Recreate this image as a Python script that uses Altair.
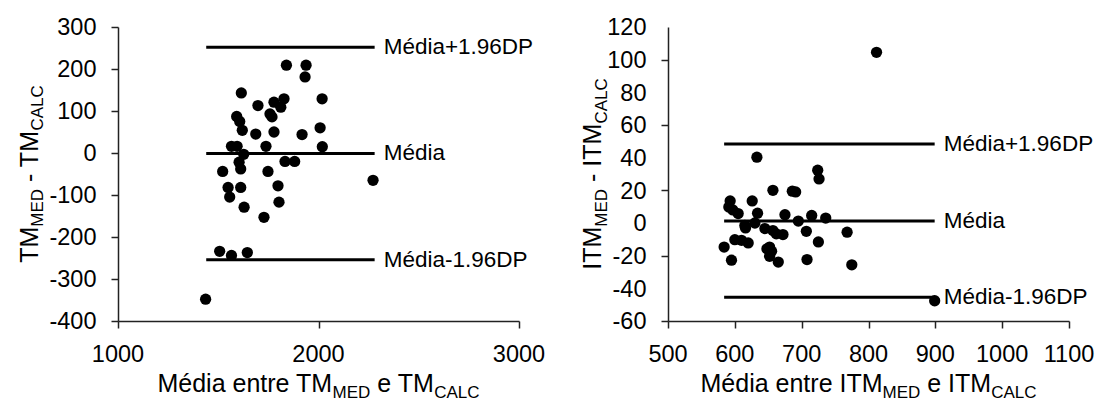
import altair as alt
import pandas as pd

# ---------------- data ----------------
# Left panel: Bland-Altman of TM
tm_mean = [1840, 1938, 1933, 1615, 1698, 1778, 1828, 1812, 1758, 1768,
           2018, 1592, 1607, 1620, 1687, 1778, 1918, 2008, 2019, 1566,
           1594, 1738, 1627, 1833, 1881, 1522, 1612, 1748, 1604, 2272,
           1549, 1612, 1798, 1557, 1803, 1629, 1728, 1507, 1566, 1645, 1437]
tm_diff = [209, 209, 181, 143, 113, 121, 129, 109, 93, 86,
           129, 87, 75, 54, 45, 50, 44, 60, 15, 16,
           16, 16, -3, -20, -20, -44, -38, -44, -22, -65,
           -82, -82, -78, -105, -117, -129, -153, -234, -244, -237, -348]

# Right panel: Bland-Altman of ITM
itm_mean = [593, 591, 597, 605, 626, 634, 657, 686, 691, 675,
            715, 695, 615, 630, 645, 657, 662, 707, 672, 584,
            600, 610, 620, 652, 655, 652, 595, 665, 708, 725,
            633, 724, 726, 736, 768, 775, 812, 899, 648, 616]
itm_diff = [13.5, 9.8, 8, 5.8, 13.5, 6, 20, 19.5, 19, 5.1,
            4.6, 1.2, -1.5, 0, -3.4, -4.6, -6.6, -5.1, -7.1, -14.7,
            -10.2, -10.6, -12.2, -14.7, -17.3, -20.4, -22.8, -23.9, -22.4, -11.6,
            40.3, 32.3, 27, 3, -5.6, -25.6, 104.5, -47.6, -15.8, -3]

line_labels = ["Média+1.96DP", "Média", "Média-1.96DP"]
tm_line_values = [252, -1, -254]
tm_line_x = [1440, 2280]
itm_line_values = [48.4, 1.2, -45.4]
itm_line_x = [584, 899]

tm_x_ticks = [1000, 2000, 3000]
tm_y_ticks = [300, 200, 100, 0, -100, -200, -300, -400]
itm_x_ticks = [500, 600, 700, 800, 900, 1000, 1100]
itm_y_ticks = [120, 100, 80, 60, 40, 20, 0, -20, -40, -60]

# ---------------- layout helpers ----------------
FONT = "Liberation Sans"
W, H = 401, 294
MAIN, SUB = 25, 17
TICKF = 23.5
ADV = {"M": 833, "é": 556, "d": 556, "i": 222, "a": 556, " ": 278,
       "e": 556, "n": 556, "t": 278, "r": 333, "T": 611, "I": 278, "E": 667,
       "D": 722, "C": 722, "A": 667, "L": 556, "-": 333}


def tw(s, size):
    return sum(ADV.get(c, 556) for c in s) * size / 1000.0


def title_layers(pieces, horizontal, base, center):
    """pieces: list of (text, is_sub). Returns list of text layers."""
    sizes = [(t, SUB if sub else MAIN, sub) for t, sub in pieces]
    total = sum(tw(t, s) for t, s, _ in sizes)
    layers = []
    pos = center - total / 2.0
    for t, s, sub in sizes:
        stripped = t.lstrip(" ")
        lead = tw(t[: len(t) - len(stripped)], s)
        p0 = pos + lead
        df = pd.DataFrame({"t": [stripped]})
        if horizontal:
            enc = dict(x=alt.value(p0), y=alt.value(base + (6 if sub else 0)))
            m = alt.Chart(df).mark_text(align="left", baseline="alphabetic", font=FONT,
                                        fontSize=s, color="black")
        else:
            enc = dict(x=alt.value(base + (5.5 if sub else 0)), y=alt.value(H - p0))
            m = alt.Chart(df).mark_text(align="left", baseline="alphabetic", font=FONT,
                                        fontSize=s, color="black", angle=270)
        layers.append(m.encode(text="t:N", **enc))
        pos += tw(t, s)
    return layers


def panel(xs, ys, line_vals, line_x, xdom, ydom, xticks, yticks, xt, yt, ytitle_x):
    pts = pd.DataFrame({"x": xs, "y": ys})
    rows = []
    for lab, v in zip(line_labels, line_vals):
        for xv in line_x:
            rows.append({"lab": lab, "x": xv, "y": v})
    lines = pd.DataFrame(rows)
    labs = pd.DataFrame({"lab": line_labels, "x": [line_x[1]] * 3, "y": line_vals})

    xs_ = alt.Scale(domain=xdom, nice=False, zero=False)
    ys_ = alt.Scale(domain=ydom, nice=False, zero=False)
    xax = alt.Axis(values=xticks, title=None, labels=False)
    yax = alt.Axis(values=yticks, title=None, labels=False)

    p = alt.Chart(pts).mark_circle(size=127, color="black", opacity=1).encode(
        x=alt.X("x:Q", scale=xs_, axis=xax),
        y=alt.Y("y:Q", scale=ys_, axis=yax),
    )
    ln = alt.Chart(lines).mark_line(color="black", strokeWidth=3).encode(
        x="x:Q", y="y:Q", detail="lab:N")
    tx = alt.Chart(labs).mark_text(align="left", baseline="middle", dx=9, font=FONT,
                                   fontSize=22.5, color="black").encode(
        x="x:Q", y="y:Q", text="lab:N")

    xl = pd.DataFrame({"v": xticks, "lab": [str(v) for v in xticks]})
    yl = pd.DataFrame({"v": yticks, "lab": [str(v) for v in yticks]})
    xlab = alt.Chart(xl).mark_text(align="center", baseline="alphabetic", font=FONT,
                                   fontSize=TICKF, color="black").encode(
        x="v:Q", y=alt.value(335), text="lab:N")
    ylab = alt.Chart(yl).mark_text(align="right", baseline="alphabetic", font=FONT,
                                   fontSize=TICKF, color="black", dy=8.4).encode(
        y="v:Q", x=alt.value(-21.5), text="lab:N")

    layers = [p, ln, tx, xlab, ylab]
    layers += title_layers(xt, True, 365, W / 2.0)
    layers += title_layers(yt, False, ytitle_x, H / 2.0)
    return alt.layer(*layers).properties(width=W, height=H)


left = panel(tm_mean, tm_diff, tm_line_values, tm_line_x, [1000, 3000], [-400, 300],
             tm_x_ticks, tm_y_ticks,
             [("Média entre TM", False), ("MED", True), (" e TM", False), ("CALC", True)],
             [("TM", False), ("MED", True), (" - TM", False), ("CALC", True)],
             -80.5)
right = panel(itm_mean, itm_diff, itm_line_values, itm_line_x, [500, 1100], [-60, 120],
              itm_x_ticks, itm_y_ticks,
              [("Média entre ITM", False), ("MED", True), (" e ITM", False), ("CALC", True)],
              [("ITM", False), ("MED", True), (" - ITM", False), ("CALC", True)],
              -66.6)

chart = alt.hconcat(left, right, spacing=149, bounds="flush").properties(
    autosize=alt.AutoSizeParams(type="none"),
    padding={"left": 118, "top": 27, "right": 981, "bottom": 373},
    background="white",
).configure_view(stroke=None).configure_axis(
    grid=False, domainColor="#222222", domainWidth=1.5,
    tickColor="#222222", tickWidth=1.5, tickSize=7,
)

chart.save("out.html", embed_options={"renderer": "svg", "actions": False})
